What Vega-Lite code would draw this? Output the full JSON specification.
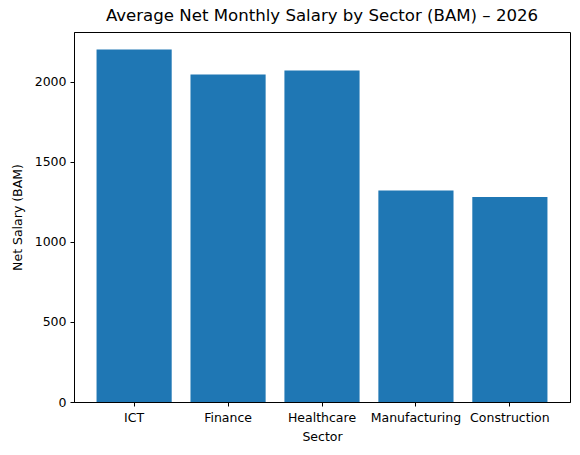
{
  "$schema": "https://vega.github.io/schema/vega-lite/v6.json",
  "width": 496,
  "height": 370,
  "autosize": {"type": "none"},
  "padding": {"left": 74, "top": 32, "right": 10, "bottom": 53},
  "background": "white",
  "title": {
    "text": "Average Net Monthly Salary by Sector (BAM) – 2026",
    "font": "DejaVu Sans",
    "fontSize": 16.6,
    "fontWeight": "normal",
    "color": "black",
    "anchor": "middle",
    "offset": 7
  },
  "data": {
    "values": [
      {"Sector": "ICT", "Salary": 2200},
      {"Sector": "Finance", "Salary": 2045},
      {"Sector": "Healthcare", "Salary": 2070},
      {"Sector": "Manufacturing", "Salary": 1320},
      {"Sector": "Construction", "Salary": 1280}
    ]
  },
  "mark": {"type": "bar", "color": "#1f77b4"},
  "encoding": {
    "x": {
      "field": "Sector",
      "type": "nominal",
      "sort": null,
      "title": "Sector",
      "scale": {"paddingInner": 0.2, "paddingOuter": 0.24},
      "axis": {
        "labelAngle": 0,
        "labelFont": "DejaVu Sans",
        "labelFontSize": 12.5,
        "labelColor": "black",
        "labelPadding": 5,
        "tickSize": 4,
        "tickColor": "black",
        "domainColor": "black",
        "titleFont": "DejaVu Sans",
        "titleFontSize": 12.5,
        "titleFontWeight": "normal",
        "titleColor": "black",
        "titlePadding": 7,
        "labelOverlap": false,
        "labelLimit": 0
      }
    },
    "y": {
      "field": "Salary",
      "type": "quantitative",
      "title": "Net Salary (BAM)",
      "scale": {"domain": [0, 2310], "nice": false, "zero": true},
      "axis": {
        "values": [0, 500, 1000, 1500, 2000],
        "format": "d",
        "grid": false,
        "labelFont": "DejaVu Sans",
        "labelFontSize": 12.5,
        "labelColor": "black",
        "labelPadding": 4,
        "tickSize": 4,
        "tickColor": "black",
        "domainColor": "black",
        "titleFont": "DejaVu Sans",
        "titleFontSize": 12.5,
        "titleFontWeight": "normal",
        "titleColor": "black",
        "titlePadding": 10
      }
    }
  },
  "config": {
    "view": {"stroke": "black", "strokeWidth": 1}
  }
}
